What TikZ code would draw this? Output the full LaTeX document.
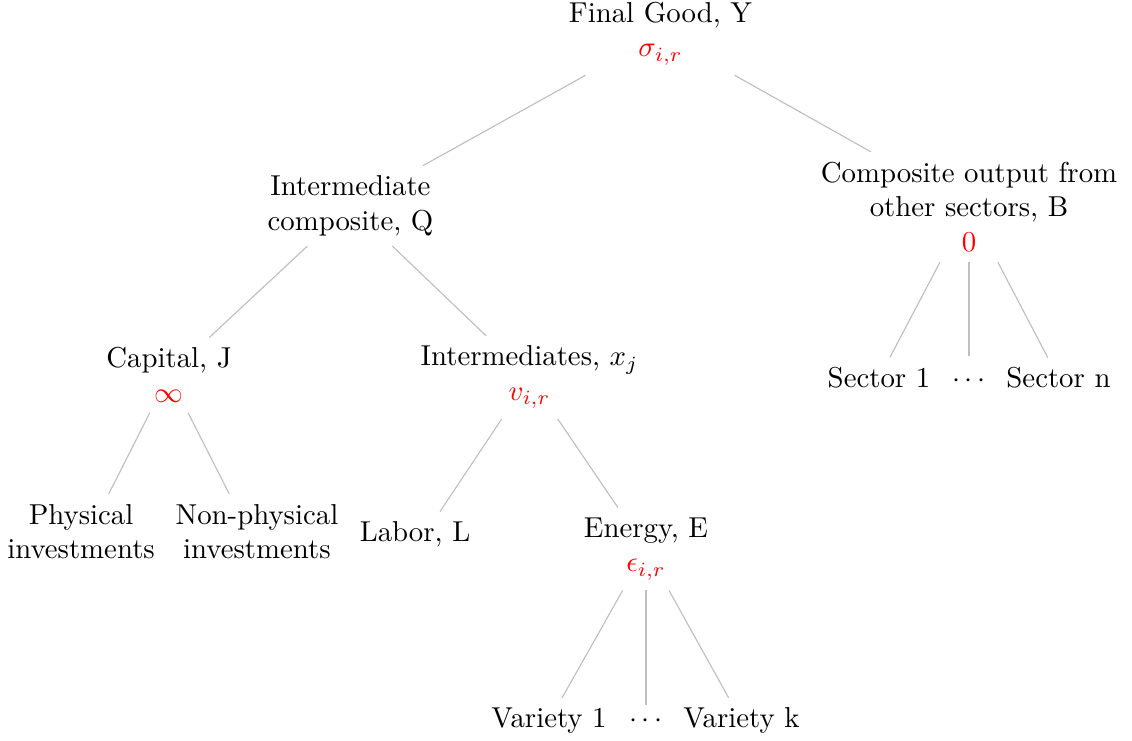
\documentclass[tikz,border=0pt]{standalone}
\begin{document}
\begin{tikzpicture}[every node/.style={align=center}, link/.style={draw=black!25}]
\useasboundingbox (0,0) rectangle (13.815,-9.031);
% top of the tree
\node (final) at (8.061,-0.410) {Final Good, Y\\\textcolor{red}{$\sigma_{i,r}$}};
\node (comp) at (4.277,-2.514) {Intermediate\\composite, Q};
\node (other) at (11.826,-2.526) {Composite output from\\other sectors, B\\\textcolor{red}{0}};
\node (capital) at (2.062,-4.577) {Capital, J\\\textcolor{red}{$\infty$}};
\node (inter) at (6.462,-4.605) {Intermediates, $x_j$\\\textcolor{red}{$v_{i,r}$}};
% sectors
\node[anchor=base] (sec1) at (10.727,-4.735) {Sector 1};
\node[anchor=base, text height=7.5pt] (secdots) at (11.826,-4.735) {$\cdots$};
\node[anchor=base] (secn) at (12.918,-4.735) {Sector n};
% lower levels (empty last line, as in the parameter rows)
\node (phys) at (0.989,-6.695) {Physical\\investments\\\mbox{}};
\node (nonphys) at (3.136,-6.695) {Non-physical\\investments\\\mbox{}};
\node (labor) at (5.065,-6.700) {Labor, L\\\mbox{}};
\node (energy) at (7.884,-6.700) {Energy, E\\\textcolor{red}{$\epsilon_{i,r}$}};
\node[anchor=base] (var1) at (6.700,-8.884) {Variety 1};
\node[anchor=base] (vardots) at (7.884,-8.884) {$\cdots$};
\node[anchor=base] (vark) at (9.049,-8.884) {Variety k};
% edges
\draw[link] (final) -- (comp);
\draw[link] (final) -- (other);
\draw[link] (comp) -- (capital);
\draw[link] (comp) -- (inter);
\draw[link] (other) -- (sec1);
\draw[link] (other) -- (secdots);
\draw[link] (other) -- (secn);
\draw[link] (capital) -- (phys);
\draw[link] (capital) -- (nonphys);
\draw[link] (inter) -- (labor);
\draw[link] (inter) -- (energy);
\draw[link] (energy) -- (var1);
\draw[link] (energy) -- (vardots);
\draw[link] (energy) -- (vark);
\end{tikzpicture}
\end{document}
